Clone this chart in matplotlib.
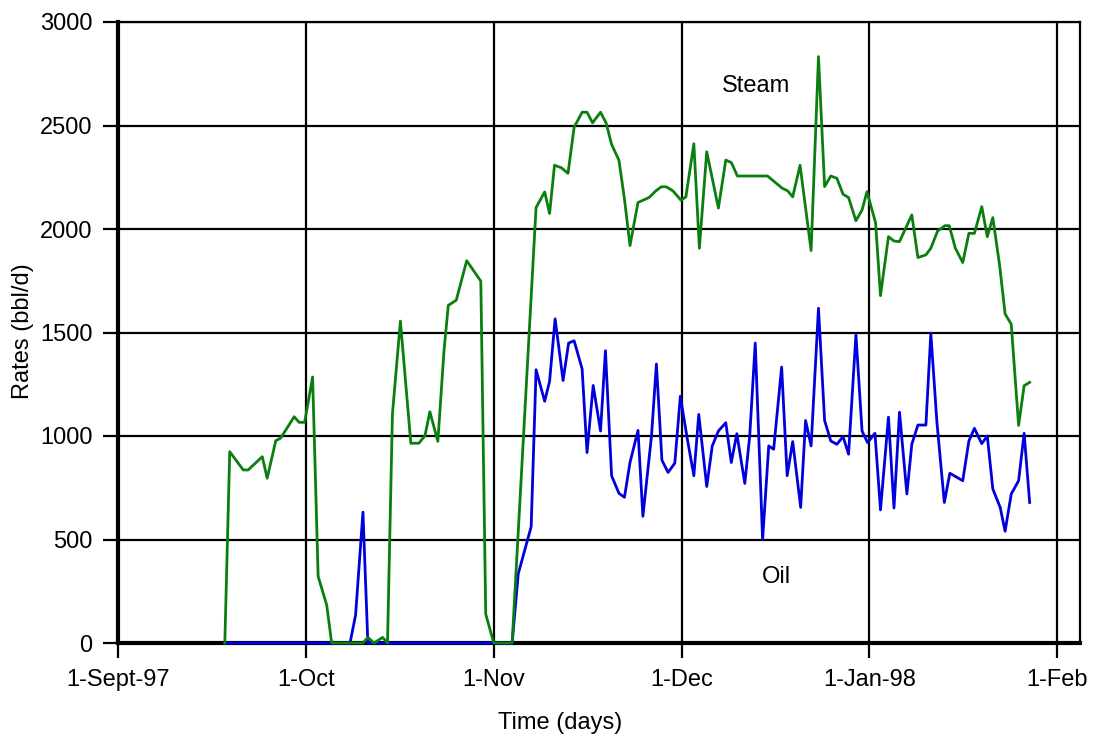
import matplotlib
matplotlib.use("Agg")
import matplotlib.pyplot as plt
import numpy as np

plt.rcParams['font.family'] = ['Liberation Sans', 'DejaVu Sans']

# x in days since 1-Sept-97 (axis months drawn equally spaced)
tick_labels = ['1-Sept-97', '1-Oct', '1-Nov', '1-Dec', '1-Jan-98', '1-Feb']
month_step = 30.6
y_ticks = [0, 500, 1000, 1500, 2000, 2500, 3000]

steam_days = [17.4, 18.2, 20.4, 21.2, 23.5, 24.3, 25.7, 26.5, 28.7, 29.5, 30.4, 31.7,
              32.6, 34.0, 34.8, 39.9, 40.7, 41.7, 43.1, 43.9, 44.7, 46.0, 47.7, 49.0,
              50.0, 50.8, 52.1, 53.1, 53.8, 55.1, 56.8, 59.1, 59.9, 61.2, 64.2, 68.1,
              69.5, 70.3, 71.1, 72.2, 73.3, 74.3, 75.6, 76.4, 77.3, 78.6, 79.5, 80.4,
              81.6, 82.5, 83.4, 84.7, 86.5, 87.6, 88.5, 89.3, 90.4, 91.7, 92.5, 93.8,
              94.7, 95.9, 97.8, 99.0, 99.9, 100.9, 105.8, 107.1, 108.2, 109.1, 109.9,
              111.1, 112.9, 114.1, 115.1, 116.1, 117.1, 118.1, 119.0, 120.2, 121.2,
              122.0, 123.4, 124.2, 125.5, 126.4, 127.3, 129.3, 130.3, 131.6, 132.4,
              133.5, 134.7, 135.4, 136.4, 137.6, 138.6, 139.5, 140.7, 141.6, 142.5,
              143.6, 144.5, 145.5, 146.7, 147.6, 148.5]
steam_rate = [0, 924, 836, 836, 900, 796, 977, 990, 1093, 1066, 1066, 1285,
              322, 183, 0, 0, 27, 0, 27, 0, 1106, 1555, 965, 965,
              1001, 1117, 974, 1411, 1631, 1656, 1847, 1748, 140, 0, 0, 2104,
              2179, 2075, 2308, 2296, 2269, 2492, 2564, 2564, 2513, 2564, 2513, 2409,
              2332, 2144, 1920, 2128, 2152, 2184, 2204, 2204, 2184, 2139, 2155, 2412,
              1907, 2373, 2101, 2333, 2321, 2256, 2256, 2224, 2197, 2184, 2155,
              2308, 1896, 2833, 2205, 2256, 2245, 2168, 2152, 2040, 2092,
              2180, 2031, 1678, 1963, 1942, 1939, 2068, 1862, 1875, 1907,
              1990, 2016, 2016, 1907, 1838, 1979, 1979, 2108, 1963, 2055,
              1826, 1590, 1540, 1051, 1243, 1259]

oil_days = [17.4, 37.8, 38.7, 39.9, 40.7, 64.2, 65.2, 67.3, 68.1, 69.5, 70.3, 71.2,
            72.5, 73.4, 74.3, 75.6, 76.4, 77.4, 78.6, 79.4, 80.4, 81.6, 82.5, 83.4,
            84.7, 85.5, 86.9, 87.7, 88.6, 89.6, 90.7, 91.6, 92.7, 93.8, 94.6, 95.9,
            96.8, 97.8, 99.0, 99.9, 100.8, 102.1, 102.9, 103.8, 105.0, 106.0, 106.8,
            108.1, 109.0, 109.9, 111.2, 112.0, 112.9, 114.1, 115.1, 116.1, 117.1,
            118.1, 119.0, 120.2, 121.2, 122.1, 123.3, 124.2, 125.5, 126.4, 127.3,
            128.5, 129.3, 130.3, 131.6, 132.4, 133.4, 134.6, 135.5, 137.6, 138.6,
            139.5, 140.7, 141.6, 142.5, 143.7, 144.5, 145.5, 146.7, 147.6, 148.5]
oil_rate = [0, 0, 135, 632, 0, 0, 335, 562, 1320, 1168, 1264, 1566,
            1268, 1449, 1460, 1324, 920, 1244, 1024, 1412, 808, 723, 704, 872,
            1027, 612, 1000, 1348, 883, 824, 869, 1192, 992, 808, 1104, 756,
            952, 1024, 1064, 872, 1011, 771, 1000, 1449, 500, 952, 936,
            1333, 808, 973, 655, 1075, 952, 1617, 1075, 976, 960,
            997, 912, 1489, 1024, 968, 1013, 643, 1091, 652, 1115,
            720, 960, 1053, 1053, 1497, 1064, 679, 820, 784, 976,
            1037, 963, 1000, 744, 655, 540, 720, 784, 1013, 679]

fig = plt.figure(figsize=(10.95, 7.40), dpi=100)
ax = fig.add_axes([118/1095, 1 - 643/740, (1080 - 118)/1095, (643 - 22)/740])

tick_pos = np.arange(len(tick_labels)) * month_step
ax.set_xlim(0, 156.7)
ax.set_ylim(0, 3000)
ax.set_xticks(tick_pos)
ax.set_xticklabels(tick_labels)
ax.set_yticks(y_ticks)

ax.grid(True, color='black', linewidth=1.6, zorder=1)
ax.set_axisbelow(True)

for s in ['left', 'bottom']:
    ax.spines[s].set_linewidth(3.0)
for s in ['top', 'right']:
    ax.spines[s].set_linewidth(1.6)
for s in ax.spines.values():
    s.set_zorder(2.5)

ax.plot(oil_days, oil_rate, color='#0000dd', linewidth=2.0, zorder=3, clip_on=False)
ax.plot(steam_days, steam_rate, color='#0a7f0f', linewidth=2.0, zorder=4, clip_on=False)

ax.text(103.9, 2690, 'Steam', fontsize=17, ha='center', va='center')
ax.text(107.2, 320, 'Oil', fontsize=17, ha='center', va='center')

ax.tick_params(axis='both', direction='out', length=10.5, width=1.6,
               labelsize=17, color='black')
ax.tick_params(axis='x', pad=8)
ax.tick_params(axis='y', pad=8)

fig.text(560/1095, 1 - 723/740, 'Time (days)', fontsize=17, ha='center', va='center')
fig.text(23/1095, 1 - 331/740, 'Rates (bbl/d)', fontsize=17, ha='center', va='center',
         rotation=90)

fig.savefig('out.png', dpi=100)
